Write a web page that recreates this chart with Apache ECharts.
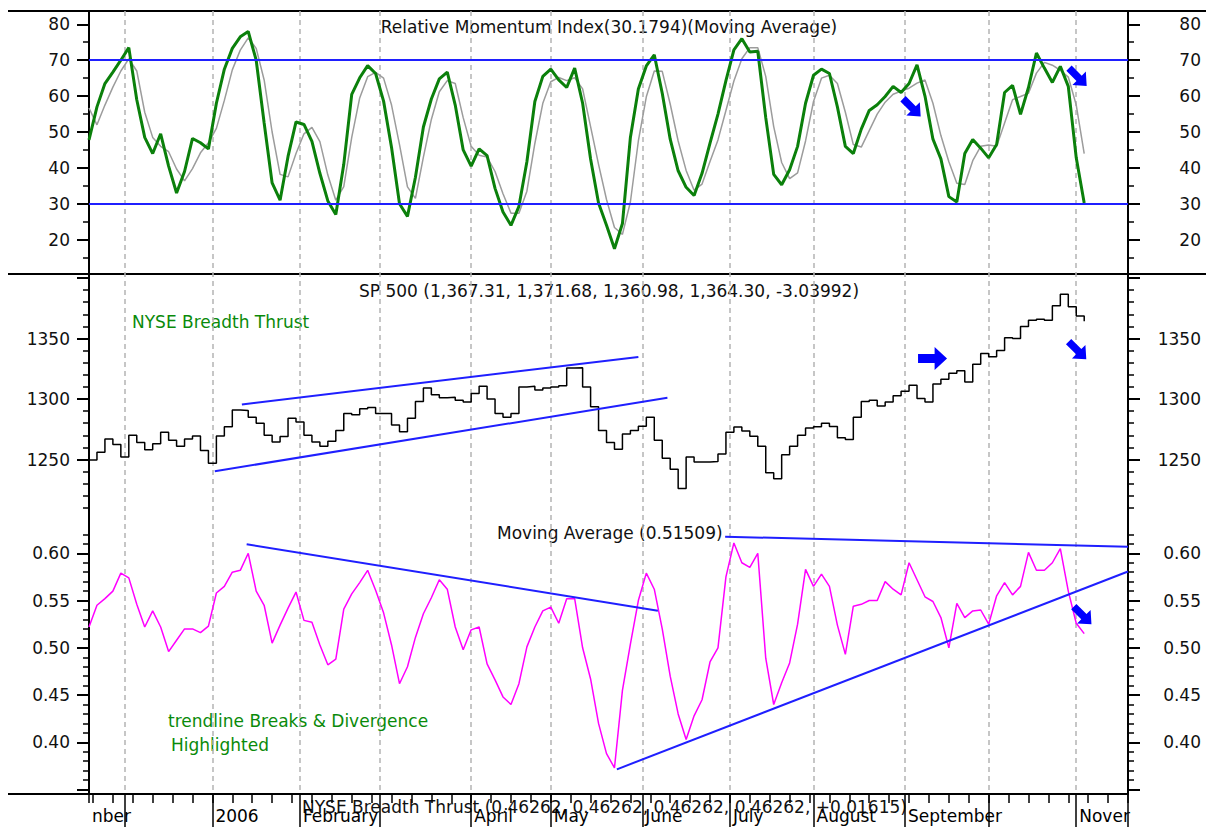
<!DOCTYPE html>
<html>
<head>
<meta charset="utf-8">
<title>RMI / SP 500 / NYSE Breadth Thrust</title>
<script src="https://cdn.jsdelivr.net/npm/echarts@6/dist/echarts.min.js"></script>
<style>
  html, body { margin: 0; padding: 0; background: #fff; }
  #main { width: 1206px; height: 827px; }
</style>
</head>
<body>
<div id="main"></div>
<script>
// x axis: one slot per weekday, slot 0 = 2005-11-18
const startDate = [2005, 10, 18];
const dayCount = 262;
const step = 2;

// Relative Momentum Index (green) and its moving average (grey)
const rmi = [
  47.8, 57, 63.5, 66.7, 70, 73.5, 59, 48.5, 44, 49.5,
  40.5, 33, 39, 48.2, 47, 45.3, 58, 67.5, 73.3, 76.5,
  78, 70, 52.5, 35.8, 31, 43.2, 52.8, 52.1, 47.4, 38.5,
  30.8, 27, 41, 60.5, 65.1, 68.5, 66.3, 58.6, 45.7, 30,
  26.5, 37.4, 51.4, 59.2, 64.8, 66.7, 57.5, 45, 40.5, 45.3,
  43.4, 34.3, 27.7, 24, 29.3, 41.7, 58.5, 65.5, 67.5, 64.5,
  62.4, 67.8, 58, 42.5, 30.2, 24, 17.5, 24.5, 48.5, 62,
  68.4, 71.5, 60.8, 48, 39.2, 34.6, 32.3, 38.5, 46.9, 55,
  64.3, 72.9, 76, 72.3, 72.5, 54, 38.2, 35.3, 39.5, 46,
  58, 65.8, 67.5, 66.3, 57, 46, 44, 50.8, 56, 57.6,
  59.9, 62.7, 61, 63.5, 68.7, 60, 48, 42.5, 32, 30.5,
  44, 47.9, 45.5, 42.8, 46.5, 61, 63, 54.9, 62.4, 72,
  67.8, 63.8, 68.3, 62.7, 42.8, 30.2
];
const rmiAvg = [
  56.7, 52, 57.5, 62.5, 67, 70.4, 67, 55.5, 48.5, 46,
  44.5, 39.7, 36.4, 39.8, 44.2, 47, 51, 58.8, 67.3, 72.8,
  76.2, 73.3, 64.5, 50, 38.2, 37.5, 44, 49.5, 51.3, 47.3,
  38, 31, 34.8, 48.5, 59.5, 65.4, 66.6, 65, 57.5, 46.5,
  34.7, 31.5, 43, 53.5, 61.2, 64.3, 63.5, 54, 46, 43.5,
  43, 39, 32.8, 27.4, 27.4, 33.5, 46.8, 58, 64, 65.2,
  64.3, 65.1, 62, 51.5, 41, 31.2, 23.4, 21.5, 30.5, 47.5,
  59.8, 67, 66.9, 57.8, 47.5, 39.3, 33.8, 35.5, 41.8, 47.8,
  56, 64.2, 70.4, 73.5, 73.5, 65.5, 51.5, 41.5, 37, 38.6,
  47.5, 58.5, 65, 65.8, 63.5, 55.5, 46.5, 45.8, 50.4, 55,
  58.3, 60.5, 61.4, 62.2, 63.6, 64.5, 58, 49, 41.7, 35.7,
  35.4, 42, 46, 46.4, 46, 52.5, 59, 59.9, 60.8, 66.4,
  69.4, 68.6, 67.2, 65.3, 57.5, 44
];
const rmiBands = [70, 30];

// SP 500 close
const spx = [
  1249.5, 1256, 1267, 1262.5, 1252, 1270, 1264, 1258, 1263, 1272.5,
  1266, 1261, 1267, 1269.5, 1257.5, 1247, 1269.5, 1277, 1291, 1290.5,
  1285, 1280, 1270, 1264.4, 1269, 1284, 1281, 1270, 1264.5, 1261,
  1265, 1274, 1288, 1287, 1292, 1293, 1288, 1288, 1278.5, 1273,
  1284, 1298, 1309, 1303.5, 1301, 1301.5, 1299, 1297.5, 1304.5, 1310.5,
  1300, 1288, 1285, 1288, 1310, 1310.5, 1307.5, 1309, 1310, 1311,
  1325.7, 1325.8, 1310, 1293.5, 1274, 1264, 1258.5, 1271, 1274, 1277.5,
  1285, 1266, 1251, 1242, 1226, 1252, 1248, 1248, 1248.3, 1254.5,
  1272.6, 1276.8, 1273.5, 1269.3, 1261, 1239, 1234, 1254, 1261, 1270,
  1276, 1277, 1280, 1277.3, 1268, 1266.5, 1285, 1298, 1299, 1294.3,
  1297.5, 1302.7, 1306.5, 1311.4, 1300.5, 1297.6, 1312.5, 1316.3, 1321.2, 1323.4,
  1314, 1328.8, 1337.6, 1335, 1340, 1350.7, 1350, 1360, 1365, 1366,
  1365, 1377, 1386.5, 1376.3, 1368.5, 1364.3
];
// channel trendlines: [slot, value] end points
const spxChannel = [
  [[38.4, 1295.5], [138.0, 1334.8]],
  [[31.6, 1240.3], [145.3, 1301]]
];

// NYSE Breadth Thrust moving average
const breadthAvg = [
  0.522, 0.545, 0.552, 0.560, 0.579, 0.574, 0.546, 0.522, 0.539, 0.522,
  0.496, 0.508, 0.520, 0.520, 0.516, 0.523, 0.558, 0.565, 0.580, 0.582,
  0.600, 0.560, 0.545, 0.505, 0.524, 0.542, 0.559, 0.529, 0.527, 0.503,
  0.482, 0.488, 0.541, 0.557, 0.569, 0.582, 0.561, 0.537, 0.503, 0.462,
  0.480, 0.511, 0.536, 0.553, 0.572, 0.562, 0.522, 0.498, 0.519, 0.522,
  0.483, 0.466, 0.448, 0.440, 0.462, 0.501, 0.522, 0.539, 0.543, 0.526,
  0.552, 0.552, 0.500, 0.467, 0.420, 0.388, 0.373, 0.455, 0.504, 0.550,
  0.579, 0.562, 0.520, 0.470, 0.430, 0.403, 0.428, 0.445, 0.485, 0.500,
  0.575, 0.611, 0.590, 0.585, 0.600, 0.489, 0.440, 0.463, 0.484, 0.525,
  0.583, 0.565, 0.578, 0.565, 0.524, 0.493, 0.544, 0.546, 0.550, 0.550,
  0.570, 0.562, 0.556, 0.590, 0.572, 0.554, 0.549, 0.532, 0.500, 0.547,
  0.532, 0.539, 0.540, 0.525, 0.555, 0.569, 0.556, 0.565, 0.601, 0.582,
  0.582, 0.590, 0.605, 0.560, 0.526, 0.515
];
const breadthLines = [
  [[39.6, 0.6095], [142.9, 0.5393]],
  [[159.8, 0.6176], [261, 0.607]],
  [[132.6, 0.3714], [261, 0.5807]]
];

// arrows: [slot, value, rotation]
const rmiArrows = [[206.7, 56.8, -45], [248.4, 65.3, -45]];
const spxArrows = [[211.9, 1333.5, 0], [248.3, 1340.1, -45]];
const breadthArrows = [[249.6, 0.5342, -45]];

// month labels as they show under the axis
const monthKeys = ['2005-11', '2006-01', '2006-02', '2006-04', '2006-05', '2006-06', '2006-07', '2006-08', '2006-09', '2006-11'];
const monthNames = ['nber', '2006', 'February', 'April', 'May', 'June', 'July', 'August', 'September', 'Nover'];

const titles = {
  rmi: 'Relative Momentum Index(30.1794)(Moving Average)',
  spx: 'SP 500 (1,367.31, 1,371.68, 1,360.98, 1,364.30, -3.03992)',
  breadth: 'Moving Average (0.51509)',
  bottom: 'NYSE Breadth Thrust (0.46262, 0.46262, 0.46262, 0.46262, +0.01615)',
  note1: 'NYSE Breadth Thrust',
  note2: 'trendline Breaks & Divergence',
  note3: 'Highlighted'
};

// ---- build the weekday axis
const days = [];
const d = new Date(Date.UTC(startDate[0], startDate[1], startDate[2]));
while (days.length < dayCount) {
  const wd = d.getUTCDay();
  if (wd !== 0 && wd !== 6) days.push(d.toISOString().slice(0, 10));
  d.setUTCDate(d.getUTCDate() + 1);
}
const isMonthStart = days.map((s, i) => i > 0 && s.slice(0, 7) !== days[i - 1].slice(0, 7));
const isMonday = days.map(s => new Date(s + 'T00:00:00Z').getUTCDay() === 1);
const monthLabel = i => {
  const k = monthKeys.indexOf(days[i].slice(0, 7));
  return k < 0 ? '' : monthNames[k];
};

const font = 'DejaVu Sans';
const L = 89, R = 78, W = 1039;
const toPts = arr => arr.map((v, k) => [k * step, v]);

const grids = [
  { left: L, right: R, top: 11, height: 783 },      // frame
  { left: L, right: R, top: 24.3, height: 233.35 }, // RMI 15..80
  { left: L, right: R, top: 24.3, height: 215.4 },  // RMI 20..80
  { left: L, right: R, top: 278, height: 229.9 },   // SPX 1210..1400
  { left: L, right: R, top: 278, height: 181.5 },   // SPX 1250..1400
  { left: L, right: R, top: 534.4, height: 255.15 },// MA 0.35..0.62
  { left: L, right: R, top: 553.3, height: 236.25 } // MA 0.35..0.60
];

const xAxes = [
  {
    type: 'category', gridIndex: 0, data: days, boundaryGap: false, position: 'bottom',
    axisLine: { show: false },
    axisTick: { show: true, interval: i => isMonthStart[i] || i === dayCount - 1, length: 33, lineStyle: { color: '#000', width: 1.5 } },
    axisLabel: {
      show: true, interval: i => i === 0 || isMonthStart[i], showMinLabel: true,
      formatter: (v, i) => monthLabel(i), align: 'left', verticalAlign: 'top', padding: [0, 0, 0, 3],
      margin: 13, fontSize: 17, fontFamily: font, color: '#000'
    },
    splitLine: { show: true, interval: i => isMonthStart[i], lineStyle: { color: '#b4b4b4', type: [5, 4], width: 1.5 } }
  },
  {
    type: 'category', gridIndex: 0, data: days, boundaryGap: false, position: 'bottom',
    axisLine: { show: false },
    axisTick: { show: true, interval: i => isMonday[i] || i === 0, length: 9, lineStyle: { color: '#000', width: 1.5 } },
    axisLabel: { show: false }, splitLine: { show: false }
  }
];
for (let g = 1; g < grids.length; g++) {
  xAxes.push({ type: 'value', gridIndex: g, min: 0, max: dayCount - 1, show: false });
}

function yPair(gridIndex, min, max, interval, len, fmt) {
  const base = {
    type: 'value', gridIndex, min, max, interval,
    axisLine: { show: false }, splitLine: { show: false },
    axisTick: { show: true, length: len, lineStyle: { color: '#000', width: fmt ? 2 : 1.5 } }
  };
  const lab = { show: !!fmt, formatter: fmt, fontSize: 17, fontFamily: font, color: '#111' };
  return [
    Object.assign({}, base, { position: 'left', axisLabel: Object.assign({}, lab, { margin: 19 }) }),
    Object.assign({}, base, { position: 'right', axisLabel: Object.assign({}, lab, { margin: 73, align: 'right' }) })
  ];
}

const frameAxis = pos => ({
  type: 'value', gridIndex: 0, min: 0, max: 1, position: pos,
  axisLine: { show: true, lineStyle: { color: '#000', width: 2 } },
  axisTick: { show: false }, axisLabel: { show: false }, splitLine: { show: false }
});

const yAxes = [frameAxis('left'), frameAxis('right')]
  .concat(yPair(1, 15, 80, 5, 6))
  .concat(yPair(2, 20, 80, 10, 12, v => String(v)))
  .concat(yPair(3, 1210, 1400, 10, 6))
  .concat(yPair(4, 1250, 1400, 50, 12, v => (v >= 1400 ? '' : String(v))))
  .concat(yPair(5, 0.35, 0.62, 0.01, 6))
  .concat(yPair(6, 0.35, 0.60, 0.05, 12, v => (v < 0.375 ? '' : v.toFixed(2))));

const arrowPath = 'path://M0,7 L16,7 L16,0 L28,11.5 L16,23 L16,16 L0,16 Z';
const arrowMarks = list => ({
  silent: true,
  label: { show: false },
  itemStyle: { color: '#0000ff' },
  data: list.map(a => ({
    coord: [a[0], a[1]], symbol: arrowPath,
    symbolSize: a[2] === 0 ? [29, 23] : [25, 19], symbolRotate: a[2]
  }))
});

const trend = (seg, xi, yi) => ({
  type: 'line', xAxisIndex: xi, yAxisIndex: yi, data: seg, showSymbol: false, silent: true,
  lineStyle: { color: '#1f1fff', width: 2 }, z: 4
});

const series = [
  {
    type: 'line', xAxisIndex: 2, yAxisIndex: 2, data: toPts(rmiAvg), showSymbol: false,
    lineStyle: { color: '#9c9c9c', width: 1.5 }, z: 2
  },
  {
    type: 'line', xAxisIndex: 2, yAxisIndex: 2, data: toPts(rmi), showSymbol: false,
    lineStyle: { color: '#0b800b', width: 3 }, z: 3,
    markLine: {
      silent: true, symbol: 'none', label: { show: false },
      lineStyle: { color: '#1f1fff', width: 2, type: 'solid' },
      data: rmiBands.map(v => ({ yAxis: v }))
    },
    markPoint: arrowMarks(rmiArrows)
  },
  {
    type: 'line', xAxisIndex: 4, yAxisIndex: 6, data: toPts(spx), showSymbol: false, step: 'end',
    lineStyle: { color: '#000', width: 1.5 }, z: 3,
    markPoint: arrowMarks(spxArrows)
  },
  {
    type: 'line', xAxisIndex: 6, yAxisIndex: 10, data: toPts(breadthAvg), showSymbol: false,
    lineStyle: { color: '#ff00ff', width: 1.5 }, z: 3,
    markPoint: arrowMarks(breadthArrows)
  }
]
  .concat(spxChannel.map(s => trend(s, 4, 6)))
  .concat(breadthLines.map(s => trend(s, 6, 10)));

const txt = (text, x, y, align, color) => ({
  type: 'text', x, y, silent: true,
  style: { text, font: '17px "' + font + '"', fill: color || '#111', align, verticalAlign: 'middle', textAlign: align, textVerticalAlign: 'middle' }
});
const hline = (x1, x2, y) => ({
  type: 'line', silent: true, shape: { x1, y1: y, x2, y2: y }, style: { stroke: '#000', lineWidth: 2 }
});

const option = {
  animation: false,
  backgroundColor: '#fff',
  grid: grids,
  xAxis: xAxes,
  yAxis: yAxes,
  series,
  graphic: [
    hline(8, 1206, 11),
    hline(8, 1206, 274),
    hline(8, L + W, 794),
    txt(titles.rmi, 609, 27, 'center'),
    txt(titles.spx, 609, 291, 'center'),
    txt(titles.breadth, 497, 533, 'left'),
    txt(titles.bottom, 302, 807, 'left'),
    txt(titles.note1, 132, 322, 'left', '#0a8a0a'),
    txt(titles.note2, 168, 721, 'left', '#0a8a0a'),
    txt(titles.note3, 171, 745, 'left', '#0a8a0a')
  ]
};

const chart = echarts.init(document.getElementById('main'), null, { renderer: 'svg' });
chart.setOption(option);
</script>
</body>
</html>
